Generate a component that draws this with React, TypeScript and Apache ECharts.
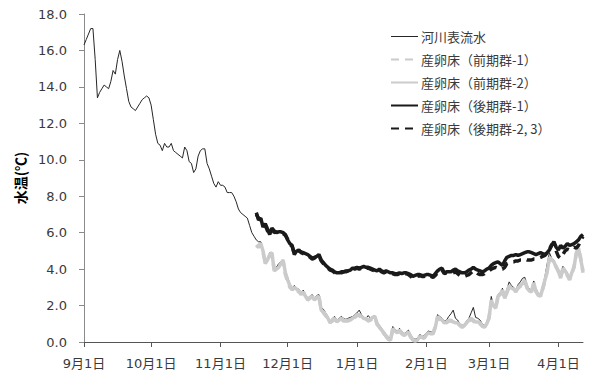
import React, { useEffect, useRef } from "react";
import * as echarts from "echarts";

// Daily categories from 9月1日 through 4月12日
const monthNums = [9, 10, 11, 12, 1, 2, 3, 4];
const monthLengths = [30, 31, 30, 31, 31, 28, 31, 12];
const categories: string[] = [];
monthNums.forEach((m, i) => {
  for (let d = 1; d <= monthLengths[i]; d++) categories.push(`${m}月${d}日`);
});

// Water temperature (°C), river surface water, one value per day from 9月1日
const riverTemp = [
  16.3, 16.6, 16.9, 17.2, 17.2, 15.5, 13.4, 13.7, 13.9, 14.1,
  14.0, 13.9, 14.3, 14.9, 14.7, 15.5, 16.0, 15.4, 14.6, 13.9,
  13.2, 12.9, 12.8, 12.7, 12.9, 13.1, 13.3, 13.4, 13.5, 13.4,
  13.0, 12.2, 11.4, 10.9, 10.8, 10.5, 10.9, 10.7, 10.7, 10.9,
  10.5, 10.4, 10.3, 10.2, 10.1, 10.7, 10.5, 9.9, 9.8, 9.3,
  9.5, 10.2, 10.5, 10.6, 10.6, 9.8, 9.5, 9.1, 8.7, 8.5,
  8.8, 8.6, 8.6, 8.5, 8.2, 8.2, 8.2, 8.0, 7.7, 7.3,
  7.1, 7.0, 6.9, 6.8, 6.4, 6.0, 5.8,
  5.6, 5.5, 5.5, 5.1, 4.4, 4.6, 4.9, 4.9, 4.0, 4.1,
  4.3, 4.4, 4.5, 3.9, 3.55, 3.2, 2.95, 3.1, 2.95, 2.9,
  2.7, 2.85, 2.6, 2.4, 2.5, 2.6, 2.4, 2.55, 2.6, 1.9,
  1.8, 1.6, 1.4, 1.15, 1.3, 1.4, 1.2, 1.3, 1.4, 1.3,
  1.25, 1.3, 1.35, 1.4, 1.5, 1.6, 1.75, 1.5, 1.35, 1.3,
  1.45, 1.3, 1.4, 1.45, 1.1, 0.9, 0.75, 0.6, 0.4, 0.25,
  0.2, 0.85, 0.7, 0.6, 0.75, 0.6, 0.45, 0.55, 0.65, 0.4,
  0.2, 0.15, 0.2, 0.4, 0.35, 0.35, 0.5, 0.6, 0.55, 0.55,
  0.9, 1.5, 1.4, 1.3, 1.15, 1.2, 1.4, 1.55, 1.75, 1.3,
  1.2, 1.0, 0.9, 1.0, 1.15, 1.3, 1.6, 1.9, 1.35, 1.3,
  1.2, 1.0, 0.9, 1.1, 1.5, 2.5, 2.0, 1.95, 2.6, 2.7,
  2.95, 2.5, 2.9, 3.3, 3.1, 3.0, 2.85, 3.15, 3.3, 3.5,
  3.55, 3.1, 2.9, 2.85, 3.35, 2.9, 2.7, 2.6, 3.05, 3.6,
  4.3, 4.9, 4.6, 4.5, 4.2, 4.0, 3.6, 4.15, 4.0, 3.8,
  3.5, 3.9, 4.2, 5.0, 5.2, 4.6, 4.0,
];

// Spawning-bed loggers start on day index 77 (11月17日)
const bedStart = 77;

const earlyBed1 = [
  5.3, 5.2, 5.3, 4.9, 4.4, 4.6, 4.7, 4.8, 4.0, 4.1,
  4.2, 4.2, 4.4, 3.7, 3.3, 3.0, 2.9, 3.05, 2.85, 2.75,
  2.65, 2.7, 2.45, 2.35, 2.45, 2.45, 2.35, 2.4, 2.45, 1.8,
  1.6, 1.45, 1.25, 1.1, 1.15, 1.25, 1.15, 1.15, 1.25, 1.15,
  1.2, 1.15, 1.25, 1.25, 1.35, 1.45, 1.45, 1.35, 1.25, 1.3,
  1.15, 1.2, 1.3, 1.35, 0.95, 0.85, 0.7, 0.45, 0.35, 0.2,
  0.15, 0.7, 0.55, 0.55, 0.6, 0.45, 0.4, 0.5, 0.5, 0.25,
  0.15, 0.1, 0.15, 0.25, 0.3, 0.25, 0.35, 0.45, 0.5, 0.5,
  0.85, 1.35, 1.25, 1.15, 1.1, 1.05, 1.15, 1.2, 1.05, 1.0,
  1.0, 0.95, 0.85, 0.95, 1.0, 1.15, 1.25, 1.15, 1.05, 1.15,
  1.0, 0.85, 0.85, 0.95, 1.35, 2.2, 1.95, 1.9, 2.45, 2.55,
  2.8, 2.45, 2.75, 3.0, 2.9, 2.85, 2.8, 2.95, 3.05, 3.15,
  3.35, 3.0, 2.75, 2.8, 3.2, 2.8, 2.55, 2.55, 2.9, 3.35,
  3.9, 4.55, 4.55, 4.3, 4.15, 3.85, 3.55, 4.0, 3.95, 3.65,
  3.45, 3.75, 4.15, 4.8, 5.1, 4.6, 3.8,
];

const earlyBed2 = [
  5.2, 5.3, 5.4, 5.0, 4.3, 4.5, 4.8, 4.9, 3.9, 4.0,
  4.1, 4.3, 4.5, 3.8, 3.4, 3.1, 2.85, 3.0, 2.9, 2.8,
  2.6, 2.75, 2.5, 2.3, 2.4, 2.5, 2.3, 2.45, 2.5, 1.75,
  1.65, 1.5, 1.3, 1.05, 1.2, 1.3, 1.1, 1.2, 1.3, 1.2,
  1.15, 1.2, 1.2, 1.3, 1.4, 1.5, 1.5, 1.4, 1.3, 1.25,
  1.2, 1.25, 1.35, 1.4, 1.0, 0.8, 0.65, 0.5, 0.3, 0.15,
  0.1, 0.75, 0.6, 0.5, 0.65, 0.5, 0.35, 0.45, 0.55, 0.3,
  0.1, 0.05, 0.1, 0.3, 0.25, 0.2, 0.4, 0.5, 0.45, 0.45,
  0.8, 1.4, 1.3, 1.2, 1.05, 1.1, 1.2, 1.15, 1.1, 1.05,
  1.05, 0.9, 0.8, 0.9, 1.05, 1.2, 1.3, 1.2, 1.1, 1.1,
  1.05, 0.9, 0.8, 1.0, 1.3, 2.3, 2.0, 1.85, 2.5, 2.6,
  2.85, 2.4, 2.7, 3.1, 2.95, 2.9, 2.75, 3.0, 3.1, 3.2,
  3.4, 2.95, 2.8, 2.75, 3.25, 2.75, 2.6, 2.5, 2.95, 3.4,
  3.85, 4.65, 4.5, 4.4, 4.1, 3.9, 3.5, 4.05, 3.9, 3.7,
  3.4, 3.8, 4.1, 4.9, 5.15, 4.5, 3.9,
];

const lateBed1 = [
  7.1, 6.7, 6.8, 6.3, 6.5, 6.2, 5.9, 6.25, 6.1, 6.0,
  6.05, 6.05, 6.0, 5.9, 5.6, 5.4, 5.3, 4.8, 5.0, 5.0,
  4.95, 4.9, 4.85, 4.8, 4.7, 4.6, 4.65, 4.7, 4.8, 4.5,
  4.35, 4.2, 4.1, 4.0, 3.95, 3.85, 3.8, 3.8, 3.85, 3.85,
  3.9, 3.9, 3.95, 4.05, 4.05, 4.1, 4.05, 4.1, 4.15, 4.1,
  4.1, 4.05, 4.0, 3.95, 3.9, 4.0, 3.9, 3.85, 3.9, 3.85,
  3.8, 3.8, 3.75, 3.75, 3.8, 3.75, 3.8, 3.8, 3.75, 3.7,
  3.6, 3.65, 3.7, 3.7, 3.65, 3.65, 3.7, 3.7, 3.65, 3.6,
  3.75, 3.9, 4.0, 4.05, 3.8, 3.85, 3.85, 3.85, 3.95, 4.0,
  3.9, 3.85, 3.8, 3.8, 3.85, 3.95, 4.0, 4.1, 4.0, 3.95,
  3.9, 3.85, 3.9, 4.0, 4.05, 4.2, 4.3, 4.35, 4.4, 4.3,
  4.2, 4.45, 4.65, 4.7, 4.75, 4.75, 4.8, 4.75, 4.8, 4.85,
  4.9, 4.95, 4.95, 4.9, 4.85, 4.8, 4.85, 4.9, 4.85, 4.8,
  4.9, 5.05, 5.3, 5.5, 5.2, 5.05, 5.3, 5.15, 5.25, 5.4,
  5.3, 5.35, 5.4, 5.5, 5.6, 5.8, 5.9,
];

const lateBed23 = [
  7.0, 6.8, 6.7, 6.4, 6.4, 6.1, 6.0, 6.2, 6.0, 6.05,
  6.0, 6.0, 5.95, 5.85, 5.65, 5.35, 5.25, 4.85, 4.95, 5.05,
  4.9, 4.85, 4.8, 4.75, 4.65, 4.55, 4.6, 4.7, 4.75, 4.45,
  4.3, 4.15, 4.05, 3.95, 3.9, 3.8, 3.75, 3.8, 3.8, 3.85,
  3.85, 3.9, 3.9, 4.0, 4.0, 4.05, 4.0, 4.05, 4.1, 4.05,
  4.05, 4.0, 3.95, 3.9, 3.85, 3.95, 3.85, 3.8, 3.85, 3.8,
  3.75, 3.75, 3.7, 3.7, 3.75, 3.7, 3.75, 3.75, 3.7, 3.6,
  3.5, 3.55, 3.6, 3.65, 3.6, 3.6, 3.65, 3.65, 3.6, 3.55,
  3.65, 3.8, 3.9, 3.95, 3.75, 3.8, 3.75, 3.75, 3.8, 3.85,
  3.75, 3.65, 3.6, 3.6, 3.65, 3.7, 3.8, 3.9, 3.85, 3.75,
  3.7, 3.7, 3.75, 3.85, 3.9, 4.0, 4.05, 4.1, 4.05, 4.0,
  4.0, 4.1, 4.3, 4.35, 4.4, 4.4, 4.45, 4.45, 4.5, 4.5,
  4.55, 4.5, 4.5, 4.5, 4.55, 4.55, 4.6, 4.65, 4.7, 4.75,
  4.9, 5.1, 5.35, 5.4, 5.0, 4.7, 4.6, 4.8, 5.0, 5.1,
  5.05, 5.1, 5.2, 5.15, 5.3, 5.6, 5.8,
];

const seriesNames = [
  "河川表流水",
  "産卵床（前期群-1）",
  "産卵床（前期群-2）",
  "産卵床（後期群-1）",
  "産卵床（後期群-2, 3）",
];

const CJK_FONT = '"Noto Sans CJK JP", "Noto Sans", sans-serif';
const NUM_FONT = '"DejaVu Sans", "Noto Sans CJK JP", sans-serif';
const GRAY = "#cbcbcb";
const BLACK = "#1a1a1a";
const TEXT = "#3a3a3a";

const pad = (vals: number[]) =>
  (Array(bedStart).fill(null) as (number | null)[]).concat(vals);

const isMonthStart = (_i: number, v: string) => /月1日$/.test(v);

export default function App() {
  const ref = useRef<HTMLDivElement>(null);

  useEffect(() => {
    if (!ref.current) return;
    const chart = echarts.init(ref.current, undefined, { renderer: "svg" });
    const bedSeries = (
      name: string,
      data: number[],
      color: string,
      dashed: boolean
    ) => ({
      name,
      type: "line",
      data: pad(data),
      symbol: "none",
      showSymbol: false,
      lineStyle: {
        color,
        width: 3.5,
        type: dashed ? [8, 6] : "solid",
      },
      itemStyle: { color },
    });

    chart.setOption({
      animation: false,
      backgroundColor: "#ffffff",
      textStyle: { fontFamily: CJK_FONT },
      grid: { left: 84, right: 6, top: 14, bottom: 32, containLabel: false },
      legend: {
        orient: "vertical",
        left: 390,
        top: 30,
        padding: 0,
        itemWidth: 27,
        itemHeight: 14,
        itemGap: 10,
        itemStyle: { opacity: 0 },
        textStyle: { fontSize: 13, color: TEXT, fontFamily: CJK_FONT, padding: [0, 0, 0, -2] },
        data: seriesNames.map((name, i) =>
          i === 0 ? { name, lineStyle: { width: 1 } } : { name }
        ),
      },
      xAxis: {
        type: "category",
        data: categories,
        boundaryGap: false,
        axisLine: { lineStyle: { color: "#555555", width: 1 } },
        axisTick: {
          interval: isMonthStart,
          length: 5,
          lineStyle: { color: "#555555" },
        },
        axisLabel: {
          interval: isMonthStart,
          margin: 15,
          fontSize: 13,
          color: TEXT,
          fontFamily: NUM_FONT,
        },
        splitLine: { show: false },
      },
      yAxis: {
        type: "value",
        min: 0,
        max: 18,
        interval: 2,
        name: "水温(℃)",
        nameLocation: "middle",
        nameGap: 55,
        nameRotate: 90,
        nameTextStyle: {
          fontSize: 14,
          fontWeight: "bold",
          color: "#000000",
          fontFamily: CJK_FONT,
        },
        axisLine: { show: true, lineStyle: { color: "#8a8a8a", width: 1 } },
        axisTick: { show: true, length: 5, lineStyle: { color: "#8a8a8a" } },
        axisLabel: {
          margin: 17,
          fontSize: 13,
          color: TEXT,
          fontFamily: NUM_FONT,
          formatter: (v: number) => v.toFixed(1),
        },
        splitLine: { show: false },
      },
      series: [
        {
          name: seriesNames[0],
          type: "line",
          data: riverTemp,
          symbol: "none",
          showSymbol: false,
          lineStyle: { color: "#262626", width: 1 },
          itemStyle: { color: "#262626" },
        },
        bedSeries(seriesNames[1], earlyBed1, GRAY, true),
        bedSeries(seriesNames[2], earlyBed2, GRAY, false),
        bedSeries(seriesNames[3], lateBed1, BLACK, false),
        bedSeries(seriesNames[4], lateBed23, BLACK, true),
      ],
    });
    return () => chart.dispose();
  }, []);

  return (
    <div
      ref={ref}
      style={{ position: "fixed", left: 0, top: 0, width: 589, height: 374 }}
    />
  );
}
